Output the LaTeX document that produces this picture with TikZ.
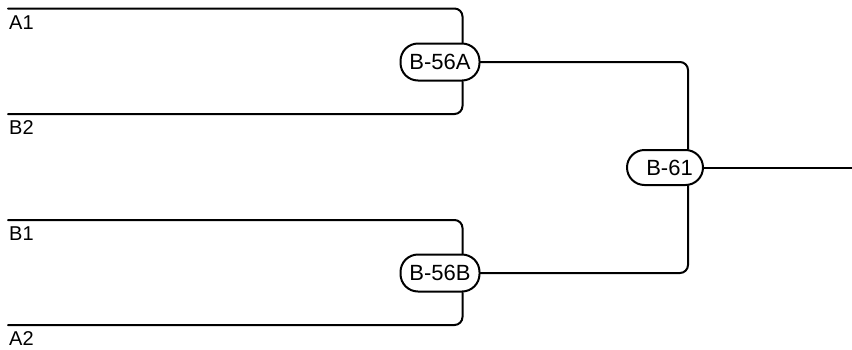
\documentclass[tikz,border=0pt]{standalone}
\usepackage{fontspec}
\setmainfont{Liberation Sans}
\usetikzlibrary{positioning}

\begin{document}
\begin{tikzpicture}[x=1pt,y=-1pt,line cap=round,line join=round,
	wire/.style={line width=2pt,rounded corners=8pt},
	gate/.style={draw,line width=2pt,fill=white,rounded corners=17.5pt,minimum width=79pt,minimum height=37pt,inner sep=0pt,font=\fontsize{22}{26}\selectfont},
	tag/.style={anchor=base west,inner sep=0pt,font=\fontsize{20}{24}\selectfont}]
	\useasboundingbox (0,0) rectangle (852,349);
	\coordinate (inA1) at (8,8.5);
	\coordinate (inB2) at (8,114);
	\coordinate (inB1) at (8,220);
	\coordinate (inA2) at (8,325);
	\coordinate (out) at (852,167.5);
	\node [tag] (tA1) at (9,29) {A1};
	\node [tag] (tB2) at (9,134) {B2};
	\node [tag] (tB1) at (9,240) {B1};
	\node [tag] (tA2) at (9,345) {A2};
	\node [gate] (b56a) at (440,62) {B-56A};
	\node [gate] (b56b) at (440,273) {B-56B};
	\node [gate, minimum width=76pt, minimum height=35pt] (b61) at (665,167.5) {\hspace*{9pt}B-61};
	\draw [wire] (inA1) -| ([xshift=22.5pt]b56a.north);
	\draw [wire] (inB2) -| ([xshift=22.5pt]b56a.south);
	\draw [wire] (inB1) -| ([xshift=22.5pt]b56b.north);
	\draw [wire] (inA2) -| ([xshift=22.5pt]b56b.south);
	\draw [wire] (b56a.east) -| ([xshift=23pt]b61.north);
	\draw [wire] (b56b.east) -| ([xshift=23pt]b61.south);
	\draw [wire] (b61.east) -- (out);
\end{tikzpicture}
\end{document}
